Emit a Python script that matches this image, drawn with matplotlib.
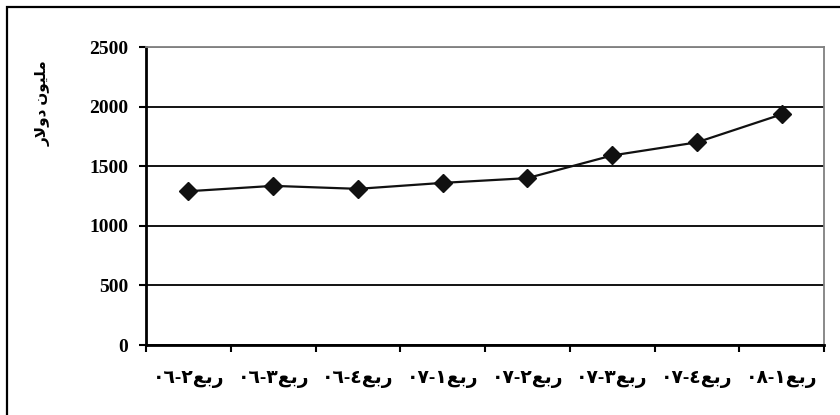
import re
import matplotlib
matplotlib.use('Agg')
import matplotlib.pyplot as plt
from matplotlib.patches import Rectangle

# Quarterly values, million dollars.
quarters = ['ربع٢-٠٦', 'ربع٣-٠٦', 'ربع٤-٠٦', 'ربع١-٠٧',
            'ربع٢-٠٧', 'ربع٣-٠٧', 'ربع٤-٠٧', 'ربع١-٠٨']
values = [1290, 1335, 1310, 1360, 1400, 1590, 1700, 1935]
y_ticks = [0, 500, 1000, 1500, 2000, 2500]
y_title = 'مليون دولار'

# Presentation forms: isolated, final, initial, medial.
FORMS = {
    'ا': ('\uFE8D', '\uFE8E'),
    'ب': ('\uFE8F', '\uFE90', '\uFE91', '\uFE92'),
    'د': ('\uFEA9', '\uFEAA'),
    'ر': ('\uFEAD', '\uFEAE'),
    'ع': ('\uFEC9', '\uFECA', '\uFECB', '\uFECC'),
    'ل': ('\uFEDD', '\uFEDE', '\uFEDF', '\uFEE0'),
    'م': ('\uFEE1', '\uFEE2', '\uFEE3', '\uFEE4'),
    'ن': ('\uFEE5', '\uFEE6', '\uFEE7', '\uFEE8'),
    'و': ('\uFEED', '\uFEEE'),
    'ي': ('\uFEF1', '\uFEF2', '\uFEF3', '\uFEF4'),
}
LAM_ALEF = ('\uFEFB', '\uFEFC')


def shape(text):
    '''
        input:
            text: Arabic string in logical order.

        output:
            the same string with joined letter forms.
    '''
    out = []
    i = 0
    while i < len(text):
        ch = text[i]
        if ch not in FORMS:
            out.append(ch)
            i += 1
            continue
        prev = text[i - 1] if i > 0 else ''
        joined = prev in FORMS and len(FORMS[prev]) == 4
        if ch == 'ل' and i + 1 < len(text) and text[i + 1] == 'ا':
            out.append(LAM_ALEF[1 if joined else 0])
            i += 2
            continue
        nxt = text[i + 1] if i + 1 < len(text) else ''
        forms = FORMS[ch]
        links = len(forms) == 4 and nxt in FORMS
        if joined and links:
            out.append(forms[3])
        elif joined:
            out.append(forms[1])
        elif links:
            out.append(forms[2])
        else:
            out.append(forms[0])
        i += 1
    return ''.join(out)


def visual(text):
    '''
        input:
            text: right-to-left string in logical order.

        output:
            string in left-to-right drawing order, digit runs kept as they are.
    '''
    runs = re.findall(r'[\u0660-\u06690-9]+|[^\u0660-\u06690-9]+', shape(text))
    runs = [r if r[0].isdigit() else r[::-1] for r in runs]
    return ''.join(reversed(runs))


fonts = ['Liberation Serif', 'DejaVu Sans']

fig = plt.figure(figsize=(8.4, 4.15), dpi=100)
ax = fig.add_axes([146 / 840, 70 / 415, 678 / 840, 298 / 415])

x = list(range(len(values)))
ax.plot(x, values, color='#111111', lw=1.6, marker='D', markersize=9,
        markerfacecolor='#111111', markeredgecolor='#111111', zorder=3)

ax.set_xlim(-0.5, len(values) - 0.5)
ax.set_ylim(y_ticks[0], y_ticks[-1])

ax.set_yticks(y_ticks)
ax.set_yticklabels([str(v) for v in y_ticks], family=fonts, fontweight='bold', fontsize=14)
ax.set_xticks(x)
ax.set_xticklabels([visual(q) for q in quarters], family=fonts, fontweight='bold', fontsize=13.5)
ax.set_xticks([v - 0.5 for v in range(len(values) + 1)], minor=True)

ax.tick_params(axis='x', which='major', length=0, pad=19)
ax.tick_params(axis='x', which='minor', direction='out', length=5, width=1.5, color='black')
ax.tick_params(axis='y', direction='out', length=5, width=1.5, color='black', pad=8)

ax.grid(axis='y', color='black', lw=1.3)
ax.get_ygridlines()[-1].set_color('#808080')
ax.set_axisbelow(True)

for side in ['left', 'bottom']:
    ax.spines[side].set_linewidth(2)
    ax.spines[side].set_color('black')
for side in ['top', 'right']:
    ax.spines[side].set_linewidth(1.3)
    ax.spines[side].set_color('#808080')

fig.text(43 / 840, 1 - 103 / 415, visual(y_title), rotation=90, ha='center', va='center',
         family=fonts, fontweight='bold', fontsize=11)

# Outer chart frame, only its top and left edges fall inside the image.
fig.patches.append(Rectangle((7 / 840, -0.1), 1.2, 1 - 7 / 415 + 0.1, transform=fig.transFigure,
                             fill=False, edgecolor='black', lw=1.6, clip_on=False))

fig.savefig('out.png', dpi=100, facecolor='white')
